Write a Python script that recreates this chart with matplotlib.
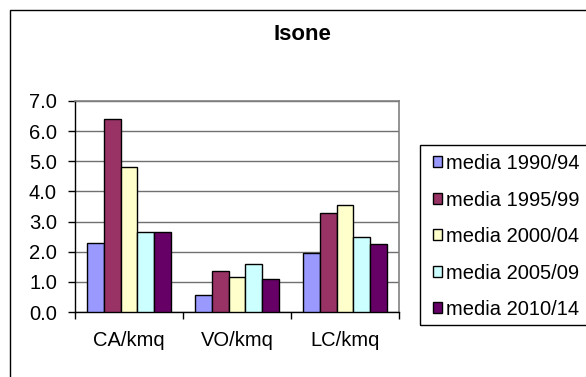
import numpy as np
import matplotlib
matplotlib.use('Agg')
import matplotlib.pyplot as plt
from matplotlib.patches import Rectangle, Patch

categories = ['CA/kmq', 'VO/kmq', 'LC/kmq']
series_names = ['media 1990/94', 'media 1995/99', 'media 2000/04',
                'media 2005/09', 'media 2010/14']
media_1990_94 = [2.3, 0.55, 1.95]
media_1995_99 = [6.4, 1.37, 3.3]
media_2000_04 = [4.8, 1.17, 3.55]
media_2005_09 = [2.65, 1.6, 2.5]
media_2010_14 = [2.67, 1.1, 2.25]
yticks = [0.0, 1.0, 2.0, 3.0, 4.0, 5.0, 6.0, 7.0]
title = 'Isone'

series = [media_1990_94, media_1995_99, media_2000_04, media_2005_09, media_2010_14]
colors = ['#9999FF', '#993366', '#FFFFCC', '#CCFFFF', '#660066']

plt.rcParams['font.family'] = ['Liberation Sans', 'DejaVu Sans']
FS = 14.5

W, H = 586, 377
fig = plt.figure(figsize=(W / 100, H / 100), dpi=100)

def fx(px):
    return px / W

def fy(py):
    return 1 - py / H

# outer chart border (only top/left visible)
fig.patches.append(Rectangle((fx(10), fy(390)), fx(600), fy(10) - fy(390),
                             transform=fig.transFigure, fill=False,
                             edgecolor='black', lw=1.0))

ax = fig.add_axes([fx(75), fy(312), fx(399) - fx(75), fy(101) - fy(312)])

x = np.arange(len(categories))
n = len(series)
bw = 0.78 / n
for i, (vals, c, name) in enumerate(zip(series, colors, series_names)):
    ax.bar(x - 0.39 + bw * (i + 0.5), vals, width=bw, color=c,
           edgecolor='black', linewidth=1.0, label=name, zorder=3)

ax.set_xlim(-0.5, len(categories) - 0.5)
ax.set_ylim(0, 7)
ax.set_yticks(yticks)
ax.set_yticklabels([f'{v:.1f}' for v in yticks], fontsize=FS)
ax.yaxis.grid(True, color='#707070', lw=1.0, zorder=0)
ax.set_axisbelow(True)

ax.set_xticks(x)
ax.set_xticklabels(categories, fontsize=FS)
ax.set_xticks(np.arange(len(categories) + 1) - 0.5, minor=True)
ax.tick_params(axis='x', which='major', length=0, pad=14)
ax.tick_params(axis='x', which='minor', length=5, width=1, color='black', direction='out')
ax.tick_params(axis='y', length=5, width=1, color='black', direction='out', pad=8)

for s in ['top', 'right']:
    ax.spines[s].set_color('#808080')
    ax.spines[s].set_linewidth(1.2)
for s in ['left', 'bottom']:
    ax.spines[s].set_color('black')
    ax.spines[s].set_linewidth(1.0)

fig.text(fx(302), fy(35), title, ha='center', va='center',
         fontsize=16, fontweight='bold')

# legend box
fig.patches.append(Rectangle((fx(420), fy(325)), fx(600) - fx(420), fy(145) - fy(325),
                             transform=fig.transFigure, fill=False,
                             edgecolor='black', lw=1.0))
handles = [Patch(facecolor=c, edgecolor='black', lw=1.0) for c in colors]
fig.legend(handles, series_names, loc='upper left',
           bbox_to_anchor=(fx(433), fy(154)), borderaxespad=0, borderpad=0,
           frameon=False, fontsize=FS, handlelength=0.45, handleheight=0.45,
           handletextpad=0.2, labelspacing=0.87)

fig.savefig('out.png', dpi=100)
